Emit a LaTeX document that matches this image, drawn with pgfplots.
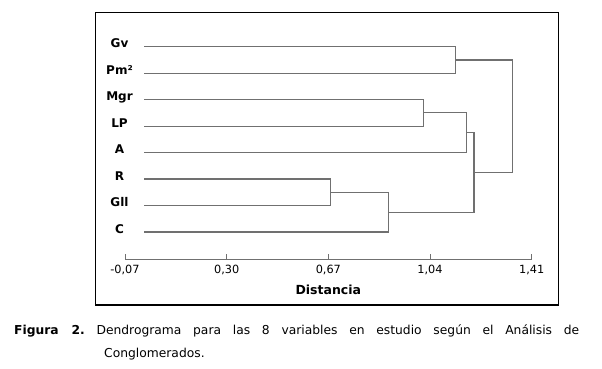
\documentclass[border=0pt]{standalone}
\usepackage{fontspec}
\setmainfont{DejaVu Sans}
\usepackage{pgfplots}
\pgfplotsset{compat=1.18}
\definecolor{dline}{HTML}{707070}
\frenchspacing
\begin{document}
\begin{tikzpicture}[x=1pt,y=1pt]
\useasboundingbox (0,0) rectangle (602,368);
\draw[black, line width=1.3pt] (95.5,355.7) rectangle (558.3,63);
\begin{axis}[
  at={(125pt,109pt)}, anchor=south west,
  scale only axis, width=406.7pt, height=230.8pt,
  xmin=-0.07, xmax=1.41, ymin=-0.02, ymax=8.7,
  clip=false,
  axis x line*=bottom, axis y line*=left,
  y axis line style={draw=none},
  x axis line style={dline, line width=0.8pt, -},
  ytick={1,2,3,4,5,6,7,8},
  yticklabels={C,Gll,R,A,LP,Mgr,Pm²,Gv},
  ytick style={draw=none},
  yticklabel style={anchor=base, xshift=-5.5pt, yshift=-1pt, font=\fontsize{12}{14}\selectfont\bfseries},
  xtick={-0.07,0.30,0.67,1.04,1.41},
  xticklabels={{-0,07},{0,30},{0,67},{1,04},{1,41}},
  xtick style={dline, line width=0.8pt},
  tick align=inside, major tick length=5pt,
  xticklabel style={anchor=base, yshift=-14pt, font=\fontsize{11.3}{13}\selectfont},
  /pgf/number format/assume math mode=true,
  xlabel={Distancia},
  xlabel style={at={(axis description cs:0.5,0)}, anchor=base, yshift=-35pt, font=\fontsize{12.5}{14}\selectfont\bfseries},
  dendro/.style={dline, line width=1.2pt, mark=none, sharp plot},
]
\addplot[dendro] coordinates {(0,8) (1.133,8) (1.133,7) (0,7)};
\addplot[dendro] coordinates {(0,6) (1.015,6) (1.015,5) (0,5)};
\addplot[dendro] coordinates {(1.015,5.5) (1.173,5.5) (1.173,4) (0,4)};
\addplot[dendro] coordinates {(0,3) (0.678,3) (0.678,2) (0,2)};
\addplot[dendro] coordinates {(0.678,2.5) (0.888,2.5) (0.888,1) (0,1)};
\addplot[dendro] coordinates {(1.173,4.75) (1.200,4.75) (1.200,1.75) (0.888,1.75)};
\addplot[dendro] coordinates {(1.133,7.5) (1.339,7.5) (1.339,3.25) (1.200,3.25)};
\end{axis}
\node[anchor=base west, inner sep=0pt, font=\fontsize{12.3}{14}\selectfont] at (14,33.7)
  {\makebox[565pt][s]{\textbf{Figura 2.} Dendrograma para las 8 variables en estudio según el Análisis de}};
\node[anchor=base west, inner sep=0pt, font=\fontsize{12.3}{14}\selectfont] at (104,10.7) {Conglomerados.};
\end{tikzpicture}
\end{document}
